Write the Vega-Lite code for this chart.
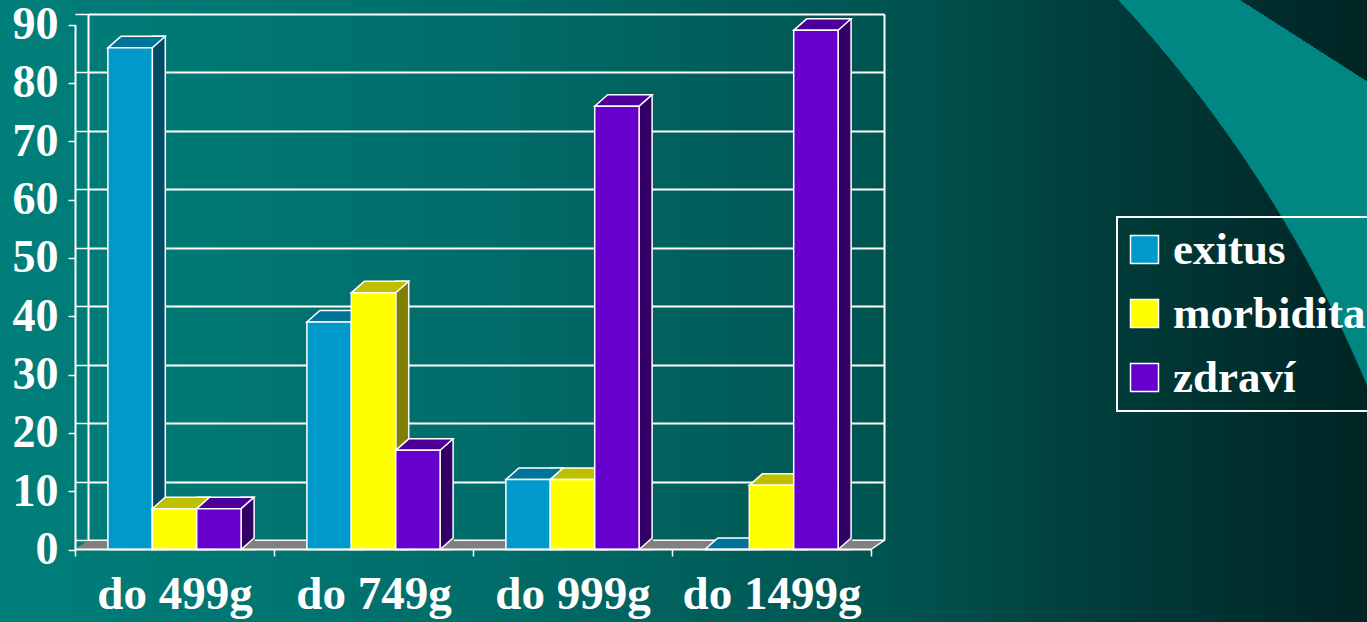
{
  "$schema": "https://vega.github.io/schema/vega-lite/v6.json",
  "width": 1367,
  "height": 622,
  "padding": 0,
  "autosize": {"type": "none"},
  "background": "#005552",
  "view": {
    "stroke": null,
    "fill": {
      "gradient": "linear", "x1": 0, "y1": 0, "x2": 1, "y2": 0,
      "stops": [
        {"offset": 0, "color": "#007f7b"},
        {"offset": 0.35, "color": "#006d6a"},
        {"offset": 0.66, "color": "#00534f"},
        {"offset": 0.83, "color": "#003a38"},
        {"offset": 1, "color": "#002424"}
      ]
    }
  },
  "config": {
    "axis": {
      "labelFont": "Liberation Serif",
      "labelFontWeight": "bold",
      "labelFontSize": 46,
      "labelColor": "white",
      "domainColor": "white",
      "tickColor": "white",
      "gridColor": "white"
    },
    "legend": {"strokeWidth": 2}
  },
  "data": {
    "values": [
      {"cat": "do 499g", "series": "exitus", "value": 86},
      {"cat": "do 499g", "series": "morbidita", "value": 7},
      {"cat": "do 499g", "series": "zdraví", "value": 7},
      {"cat": "do 749g", "series": "exitus", "value": 39},
      {"cat": "do 749g", "series": "morbidita", "value": 44},
      {"cat": "do 749g", "series": "zdraví", "value": 17},
      {"cat": "do 999g", "series": "exitus", "value": 12},
      {"cat": "do 999g", "series": "morbidita", "value": 12},
      {"cat": "do 999g", "series": "zdraví", "value": 76},
      {"cat": "do 1499g", "series": "exitus", "value": 0},
      {"cat": "do 1499g", "series": "morbidita", "value": 11},
      {"cat": "do 1499g", "series": "zdraví", "value": 89}
    ]
  },
  "resolve": {"scale": {"x": "independent", "y": "independent"}},
  "layer": [
    {
      "data": {"values": [{}]},
      "mark": {
        "type": "rect",
        "strokeWidth": 0,
        "fill": {
          "gradient": "radial",
          "x1": 0.11704, "y1": 0.92282, "r1": 0.95611,
          "x2": -18.77505, "y2": 31.10183, "r2": 36.57644,
          "stops": [
            {"offset": 0, "color": "rgba(0,135,132,0)"},
            {"offset": 0.0002, "color": "#008784"},
            {"offset": 0.997, "color": "#008784"},
            {"offset": 1, "color": "rgba(0,135,132,0)"}
          ]
        }
      },
      "encoding": {}
    },
    {
      "name": "back",
      "mark": {"type": "point", "opacity": 0},
      "encoding": {
        "x": {
          "field": "cat", "type": "nominal", "title": null,
          "scale": {"type": "band", "domain": ["do 499g", "do 749g", "do 999g", "do 1499g"], "range": [88, 884], "paddingInner": 0, "paddingOuter": 0},
          "axis": {"orient": "top", "values": ["do 1499g"], "bandPosition": 1, "tickExtra": false, "domain": false, "ticks": false, "labels": false, "grid": true, "gridWidth": 2, "gridOpacity": 1, "zindex": 0}
        },
        "y": {
          "field": "value", "type": "quantitative", "title": null,
          "scale": {"domain": [0, 90], "range": [540, 14], "nice": false},
          "axis": {
            "orient": "left", "offset": -88,
            "values": [0, 10, 20, 30, 40, 50, 60, 70, 80, 90],
            "grid": true, "gridWidth": 2, "gridOpacity": 1,
            "domain": true, "domainWidth": 2,
            "ticks": true, "tickSize": 13, "tickWidth": 1.5,
            "labels": false, "zindex": 0,
            "encode": {"ticks": {"y2": {"value": {"expr": "scale('back_y', datum.value) + 10"}}}}
          }
        }
      }
    },
    {
      "name": "main",
      "layer": [
        {
          "transform": [{"filter": "datum.series === 'exitus'"}],
          "mark": {"type": "point", "shape": "M -1 0 L 1 0 L 1.13 -0.085 L -0.87 -0.085 Z", "size": 40000, "filled": true, "opacity": 1, "fill": "#808080", "strokeWidth": 0},
          "encoding": {
            "x": {
              "field": "cat", "type": "nominal", "title": null,
              "scale": {"type": "band", "domain": ["do 499g", "do 749g", "do 999g", "do 1499g"], "range": [75, 871], "paddingInner": 0, "paddingOuter": 0},
              "axis": {"orient": "bottom", "offset": -73, "domainWidth": 2, "tickSize": 7, "tickWidth": 1.5, "tickBand": "extent", "labelPadding": 15, "labelFontSize": 47, "labelAngle": 0, "grid": false, "zindex": 1}
            },
            "y": {
              "datum": 0, "type": "quantitative", "title": null,
              "scale": {"domain": [0, 90], "range": [549.5, 24.5], "nice": false},
              "axis": {"orient": "left", "offset": -75, "values": [0, 10, 20, 30, 40, 50, 60, 70, 80, 90], "domainWidth": 2, "tickSize": 7, "tickWidth": 1.5, "labelPadding": 10, "grid": false, "zindex": 1}
            }
          }
        },
        {
          "transform": [{"filter": "datum.series === 'exitus' && datum.cat === 'do 1499g'"}],
          "mark": {"type": "point", "shape": "M 0.995 0 L 1.125 -0.09", "size": 40000, "filled": false, "opacity": 1, "stroke": "white", "strokeWidth": 1.5},
          "encoding": {
            "x": {"field": "cat", "type": "nominal", "title": null},
            "y": {"datum": 0, "type": "quantitative", "title": null}
          }
        },
        {
          "transform": [{"filter": "datum.series === 'exitus'"}],
          "layer": [
            {
              "mark": {"type": "bar", "width": 13, "xOffset": -15.7, "yOffset": -11.5, "fill": "#004c66", "stroke": "white", "strokeWidth": 1.5},
              "encoding": {"x": {"field": "cat", "type": "nominal", "title": null}, "y": {"field": "value", "type": "quantitative", "title": null, "stack": null}}
            },
            {
              "mark": {"type": "point", "shape": "M -0.444 0 L 0.444 0 L 0.704 -0.23 L -0.184 -0.23 Z", "size": 10000, "filled": true, "opacity": 1, "fill": "#007399", "stroke": "white", "strokeWidth": 1.5, "xOffset": -44.4},
              "encoding": {"x": {"field": "cat", "type": "nominal", "title": null}, "y": {"field": "value", "type": "quantitative", "title": null}}
            },
            {
              "mark": {"type": "bar", "width": 44.4, "xOffset": -44.4, "stroke": "white", "strokeWidth": 1.5},
              "encoding": {
                "x": {"field": "cat", "type": "nominal", "title": null},
                "y": {"field": "value", "type": "quantitative", "title": null, "stack": null},
                "color": {
                  "field": "series", "type": "nominal",
                  "scale": {"domain": ["exitus", "morbidita", "zdraví"], "range": ["#0099cc", "#ffff00", "#6600cc"]},
                  "legend": {
                    "orient": "none", "legendX": 1117, "legendY": 217, "title": null, "zindex": 1,
                    "strokeColor": "white", "padding": 10, "rowPadding": 18, "labelOffset": 6, "symbolOffset": -5,
                    "labelFont": "Liberation Serif", "labelFontWeight": "bold", "labelFontSize": 45, "labelColor": "white", "labelLimit": 500,
                    "symbolType": "square", "symbolSize": 784, "symbolStrokeColor": "white", "symbolStrokeWidth": 1.5, "symbolOpacity": 1
                  }
                }
              }
            }
          ]
        },
        {
          "transform": [{"filter": "datum.series === 'morbidita'"}],
          "layer": [
            {
              "mark": {"type": "bar", "width": 13, "xOffset": 28.7, "yOffset": -11.5, "fill": "#808000", "stroke": "white", "strokeWidth": 1.5},
              "encoding": {"x": {"field": "cat", "type": "nominal", "title": null}, "y": {"field": "value", "type": "quantitative", "title": null, "stack": null}}
            },
            {
              "mark": {"type": "point", "shape": "M -0.444 0 L 0.444 0 L 0.704 -0.23 L -0.184 -0.23 Z", "size": 10000, "filled": true, "opacity": 1, "fill": "#bfbf00", "stroke": "white", "strokeWidth": 1.5, "xOffset": 0},
              "encoding": {"x": {"field": "cat", "type": "nominal", "title": null}, "y": {"field": "value", "type": "quantitative", "title": null}}
            },
            {
              "mark": {"type": "bar", "width": 44.4, "stroke": "white", "strokeWidth": 1.5},
              "encoding": {
                "x": {"field": "cat", "type": "nominal", "title": null},
                "y": {"field": "value", "type": "quantitative", "title": null, "stack": null},
                "color": {"field": "series", "type": "nominal"}
              }
            }
          ]
        },
        {
          "transform": [{"filter": "datum.series === 'zdraví'"}],
          "layer": [
            {
              "mark": {"type": "bar", "width": 13, "xOffset": 73.1, "yOffset": -11.5, "fill": "#330066", "stroke": "white", "strokeWidth": 1.5},
              "encoding": {"x": {"field": "cat", "type": "nominal", "title": null}, "y": {"field": "value", "type": "quantitative", "title": null, "stack": null}}
            },
            {
              "mark": {"type": "point", "shape": "M -0.444 0 L 0.444 0 L 0.704 -0.23 L -0.184 -0.23 Z", "size": 10000, "filled": true, "opacity": 1, "fill": "#4c0099", "stroke": "white", "strokeWidth": 1.5, "xOffset": 44.4},
              "encoding": {"x": {"field": "cat", "type": "nominal", "title": null}, "y": {"field": "value", "type": "quantitative", "title": null}}
            },
            {
              "mark": {"type": "bar", "width": 44.4, "xOffset": 44.4, "stroke": "white", "strokeWidth": 1.5},
              "encoding": {
                "x": {"field": "cat", "type": "nominal", "title": null},
                "y": {"field": "value", "type": "quantitative", "title": null, "stack": null},
                "color": {"field": "series", "type": "nominal"}
              }
            },
            {
              "mark": {"type": "point", "shape": "M 0.444 0 L 0.704 -0.23 L 0.724 -0.23 L 0.724 0.02 L 0.444 0.02 Z", "size": 10000, "filled": true, "opacity": 1, "fill": "#808080", "strokeWidth": 0, "xOffset": 44.4},
              "encoding": {"x": {"field": "cat", "type": "nominal", "title": null}, "y": {"datum": 0, "type": "quantitative", "title": null}}
            },
            {
              "mark": {"type": "point", "shape": "M 0.444 0 L 0.704 -0.23", "size": 10000, "filled": false, "opacity": 1, "stroke": "white", "strokeWidth": 1.5, "xOffset": 44.4},
              "encoding": {"x": {"field": "cat", "type": "nominal", "title": null}, "y": {"datum": 0, "type": "quantitative", "title": null}}
            }
          ]
        }
      ]
    }
  ]
}
